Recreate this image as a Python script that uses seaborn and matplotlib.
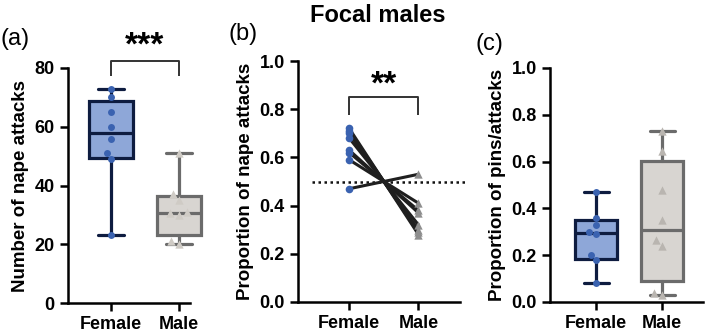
import numpy as np
import pandas as pd
import matplotlib
matplotlib.use("Agg")
import matplotlib.pyplot as plt
import seaborn as sns

groups = ["Female", "Male"]

# (a) number of nape attacks
nape_female = [73, 70, 65, 60, 56, 51, 49, 23]
nape_male = [51, 37, 35, 31, 30.5, 30, 21, 20]

# (b) proportion of nape attacks, paired per focal male
prop_female = [0.72, 0.71, 0.70, 0.68, 0.63, 0.62, 0.59, 0.47]
prop_male = [0.28, 0.29, 0.30, 0.32, 0.37, 0.38, 0.41, 0.53]

# (c) proportion of pins / attacks
pins_female = [0.47, 0.36, 0.33, 0.30, 0.29, 0.20, 0.18, 0.08]
pins_male = [0.73, 0.645, 0.48, 0.35, 0.265, 0.24, 0.04, 0.03]

sns.set_theme(style="ticks")
plt.rcParams["font.family"] = ["Liberation Sans", "DejaVu Sans"]
plt.rcParams["axes.linewidth"] = 1.8
plt.rcParams["xtick.major.width"] = 1.8
plt.rcParams["ytick.major.width"] = 1.8
plt.rcParams["xtick.major.size"] = 6
plt.rcParams["ytick.major.size"] = 6
plt.rcParams["axes.edgecolor"] = "black"
for key in ["xtick.color", "ytick.color", "axes.labelcolor", "text.color"]:
    plt.rcParams[key] = "black"

fem_fill, fem_edge, fem_dot = "#8ea7d8", "#0e1c40", "#3a62b0"
male_fill, male_edge = "#d8d5d1", "#6b6b6b"


def long_df(fem, male):
    return pd.DataFrame({
        "sex": ["Female"] * len(fem) + ["Male"] * len(male),
        "value": fem + male,
        "id": list(range(len(fem))) + list(range(len(male))),
    })


def box_panel(ax, fem, male, tri_color):
    stats = []
    for vals in (fem, male):
        q1, med, q3 = np.percentile(vals, [25, 50, 75], method="weibull")
        stats.append(dict(med=med, q1=q1, q3=q3, whislo=min(vals),
                          whishi=max(vals), fliers=[]))
    bp = ax.bxp(stats, positions=[0, 1], widths=0.64, capwidths=0.38,
                patch_artist=True, showfliers=False)
    for i, (fill, edge) in enumerate([(fem_fill, fem_edge), (male_fill, male_edge)]):
        bp["boxes"][i].set(facecolor=fill, edgecolor=edge, linewidth=2.3)
        bp["medians"][i].set(color=edge, linewidth=2.3)
        for art in bp["whiskers"][2 * i:2 * i + 2] + bp["caps"][2 * i:2 * i + 2]:
            art.set(color=edge, linewidth=2.3)
    for art in sum(bp.values(), []):
        art.set_clip_on(False)
    df = long_df(fem, male)
    sns.swarmplot(data=df[df.sex == "Female"], x="sex", y="value", order=groups,
                  color=fem_dot, size=5, marker="o", linewidth=0, ax=ax, zorder=5)
    sns.swarmplot(data=df[df.sex == "Male"], x="sex", y="value", order=groups,
                  color=tri_color, size=6, marker="^", linewidth=0, ax=ax, zorder=5)
    for c in ax.collections:
        c.set_clip_on(False)


def style_axis(ax, xlim, ylim, yticks, ylabel, fmt):
    ax.set_xlim(*xlim)
    ax.set_ylim(*ylim)
    ax.set_xticks([0, 1])
    ax.set_xticklabels(groups, fontsize=13, fontweight="bold")
    ax.set_yticks(yticks)
    ax.set_yticklabels([fmt.format(t) for t in yticks], fontsize=13, fontweight="bold")
    ax.set_xlabel("")
    ax.set_ylabel(ylabel, fontsize=13.5, fontweight="bold", labelpad=4)
    sns.despine(ax=ax)


def bracket(ax, y0, y1, ys, stars):
    ax.plot([0, 0, 1, 1], [y0, y1, y1, y0], color="#333333", lw=1.4,
            clip_on=False, solid_capstyle="butt")
    ax.text(0.5, ys, stars, ha="center", va="center", fontsize=24,
            fontweight="bold", clip_on=False)


fig = plt.figure(figsize=(7.09, 3.35), dpi=100)
axA = fig.add_axes([68 / 709, 32 / 335, 122 / 709, 235 / 335])
axB = fig.add_axes([298 / 709, 33 / 335, 162 / 709, 241 / 335])
axC = fig.add_axes([550 / 709, 33 / 335, 153 / 709, 234 / 335])

# (a)
box_panel(axA, nape_female, nape_male, "#cfcbc5")
style_axis(axA, (-0.63, 1.16), (0, 80), [0, 20, 40, 60, 80],
           "Number of nape attacks", "{:d}")
bracket(axA, 77.4, 82.4, 87.5, "***")

# (b)
dfb = long_df(prop_female, prop_male)
dfb["pos"] = pd.Categorical(dfb.sex, categories=groups).codes
axB.hlines(0.5, -0.54, 1.68, colors="#111111", linestyles=(0, (1, 1.4)),
           lw=1.8, clip_on=False)
sns.lineplot(data=dfb, x="pos", y="value", units="id", estimator=None,
             color="#1f1f1f", lw=2.2, sort=False, ax=axB, legend=False)
sns.stripplot(data=dfb[dfb.sex == "Female"], x="sex", y="value", order=groups,
              jitter=False, color=fem_dot, size=5.5, marker="o", linewidth=0,
              ax=axB, zorder=5)
sns.stripplot(data=dfb[dfb.sex == "Male"], x="sex", y="value", order=groups,
              jitter=False, color="#8e8e8e", size=6, marker="^", linewidth=0,
              ax=axB, zorder=5)
style_axis(axB, (-0.74, 1.6), (0, 1), [0, 0.2, 0.4, 0.6, 0.8, 1.0],
           "Proportion of nape attacks", "{:.1f}")
bracket(axB, 0.776, 0.85, 0.9, "**")

# (c)
box_panel(axC, pins_female, pins_male, "#b9b5b0")
style_axis(axC, (-0.7, 1.62), (0, 1), [0, 0.2, 0.4, 0.6, 0.8, 1.0],
           "Proportion of pins/attacks", "{:.1f}")

fig.text(378 / 709, 1 - 15 / 335, "Focal males", ha="center", va="center",
         fontsize=17, fontweight="bold")
fig.text(1 / 709, 1 - 39 / 335, "(a)", ha="left", va="center", fontsize=17)
fig.text(229 / 709, 1 - 34 / 335, "(b)", ha="left", va="center", fontsize=17)
fig.text(476 / 709, 1 - 44 / 335, "(c)", ha="left", va="center", fontsize=17)

fig.savefig("out.png", dpi=100)
